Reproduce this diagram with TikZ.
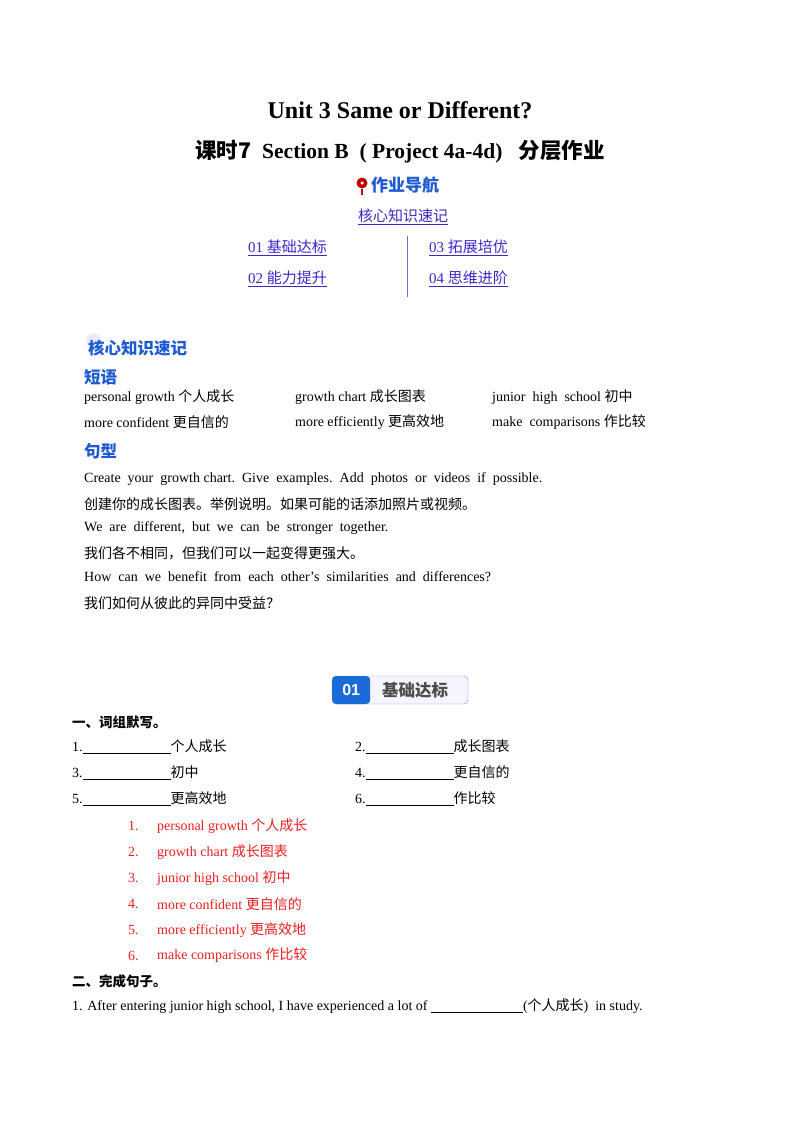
\documentclass[tikz,border=0pt]{standalone}
\usepackage{fontspec}
\setmainfont{Liberation Serif}
\newfontfamily\cjk{Noto Sans CJK SC}
\newfontfamily\badgefont{Liberation Sans}
\newcommand{\zh}[1]{{\cjk #1}}
\newcommand{\blank}{\underline{\hspace{88pt}}}
\definecolor{linkc}{RGB}{60,40,200}
\definecolor{headc}{RGB}{30,90,210}
\definecolor{ansc}{RGB}{235,30,30}

\begin{document}
\begin{tikzpicture}[x=1pt,y=-1pt,
  every node/.style={inner sep=0pt, font=\fontsize{14}{16}\selectfont},
  txt/.style={anchor=west},
  link/.style={anchor=west, text=linkc, font=\fontsize{15}{17}\selectfont},
  head/.style={anchor=west, text=headc, font=\fontsize{16.5}{18}\selectfont\cjk\bfseries},
  ans/.style={anchor=west, text=ansc}]
  \useasboundingbox (0,0) rectangle (800,1132);
  % title
  \node (title) at (400,110) {\fontsize{24}{27}\selectfont\bfseries Unit 3 Same or Different?};
  \node (sub) at (400,152) {\fontsize{21.5}{24}\selectfont\bfseries\zh{课时7}\ \ Section B\ \ ( Project 4a-4d)\ \ \ \zh{分层作业}};
  % navigation
  \node[fill=red!75!black, circle, minimum size=11pt] (pin) at (362,183) {};
  \node[fill=white, circle, minimum size=3.5pt] (pinhole) at (362,183) {};
  \draw[red!75!black, line width=1.4pt] (pin.south) -- (362,195);
  \node[txt, text=headc, font=\fontsize{17}{19}\selectfont\cjk\bfseries] (nav) at (371,185) {作业导航};
  \node (core) at (403,217) {\fontsize{15}{17}\selectfont\color{linkc}\underline{\zh{核心知识速记}}};
  \node[link] (l1) at (248,248) {\underline{01 \zh{基础达标}}};
  \node[link] (l2) at (248,279) {\underline{02 \zh{能力提升}}};
  \node[link] (l3) at (429,248) {\underline{03 \zh{拓展培优}}};
  \node[link] (l4) at (429,279) {\underline{04 \zh{思维进阶}}};
  \coordinate (bartop) at (407,236);
  \coordinate (barbot) at (407,297);
  \draw[linkc!70, line width=0.8pt] (bartop) -- (barbot);
  % core knowledge
  \node[fill=blue!8, circle, minimum size=16pt] (dot) at (94,341) {};
  \node[head] (hcore) at (88,348) {核心知识速记};
  \node[head] (hphr) at (84,377) {短语};
  \node[txt] (p1) at (84,397) {personal growth \zh{个人成长}};
  \node[txt] (p2) at (295,397) {growth chart \zh{成长图表}};
  \node[txt] (p3) at (492,397) {junior\ \ high\ \ school \zh{初中}};
  \node[txt] (p4) at (84,422) {more confident \zh{更自信的}};
  \node[txt] (p5) at (295,422) {more efficiently \zh{更高效地}};
  \node[txt] (p6) at (492,422) {make\ \ comparisons \zh{作比较}};
  \node[head] (hsen) at (84,451) {句型};
  \node[txt] (s1) at (84,479) {Create\ \ your\ \ growth\ chart.\ \ Give\ \ examples.\ \ Add\ \ photos\ \ or\ \ videos\ \ if\ \ possible.};
  \node[txt] (s2) at (84,504) {\zh{创建你的成长图表。举例说明。如果可能的话添加照片或视频。}};
  \node[txt] (s3) at (84,528) {We\ \ are\ \ different,\ \ but\ \ we\ \ can\ \ be\ \ stronger\ \ together.};
  \node[txt] (s4) at (84,553) {\zh{我们各不相同，但我们可以一起变得更强大。}};
  \node[txt] (s5) at (84,577) {How\ \ can\ \ we\ \ benefit\ \ from\ \ each\ \ other’s\ \ similarities\ \ and\ \ differences?};
  \node[txt] (s6) at (84,603) {\zh{我们如何从彼此的异同中受益？}};
  % badge
  \node[draw=headc!60, fill=blue!4, rounded corners=4pt, minimum width=136pt, minimum height=28pt] (badge) at (400,690) {};
  \node[fill=headc!90!cyan, rounded corners=4pt, minimum width=38pt, minimum height=28pt, anchor=west] (num) at (332,690) {\color{white}\fontsize{16}{18}\selectfont\badgefont\bfseries 01};
  \node[anchor=west, text=black!70, font=\fontsize{16.5}{18}\selectfont\cjk\bfseries] (btxt) at (382,690) {基础达标};
  % exercise one
  \node[txt, font=\fontsize{13.5}{15}\selectfont\cjk\bfseries] (q1) at (72,722) {一、词组默写。};
  \node[txt] (a1) at (72,747) {1.\blank\zh{个人成长}};
  \node[txt] (a2) at (355,747) {2.\blank\zh{成长图表}};
  \node[txt] (a3) at (72,773) {3.\blank\zh{初中}};
  \node[txt] (a4) at (355,773) {4.\blank\zh{更自信的}};
  \node[txt] (a5) at (72,799) {5.\blank\zh{更高效地}};
  \node[txt] (a6) at (355,799) {6.\blank\zh{作比较}};
  \foreach \i/\t [evaluate=\i as \yy using 826+25.9*(\i-1)] in
    {1/personal growth \zh{个人成长}, 2/growth chart \zh{成长图表}, 3/junior high school \zh{初中},
     4/more confident \zh{更自信的}, 5/more efficiently \zh{更高效地}, 6/make comparisons \zh{作比较}} {
    \node[ans] (n\i) at (128,\yy) {\i.};
    \node[ans] (r\i) at (157,\yy) {\t};
  }
  % exercise two
  \node[txt, font=\fontsize{13.5}{15}\selectfont\cjk\bfseries] (q2) at (72,981) {二、完成句子。};
  \node[txt] (b1) at (72,1006) {1. After entering junior high school, I have experienced a lot of \underline{\hspace{92pt}}(\zh{个人成长})\ \ in study.};
\end{tikzpicture}
\end{document}
